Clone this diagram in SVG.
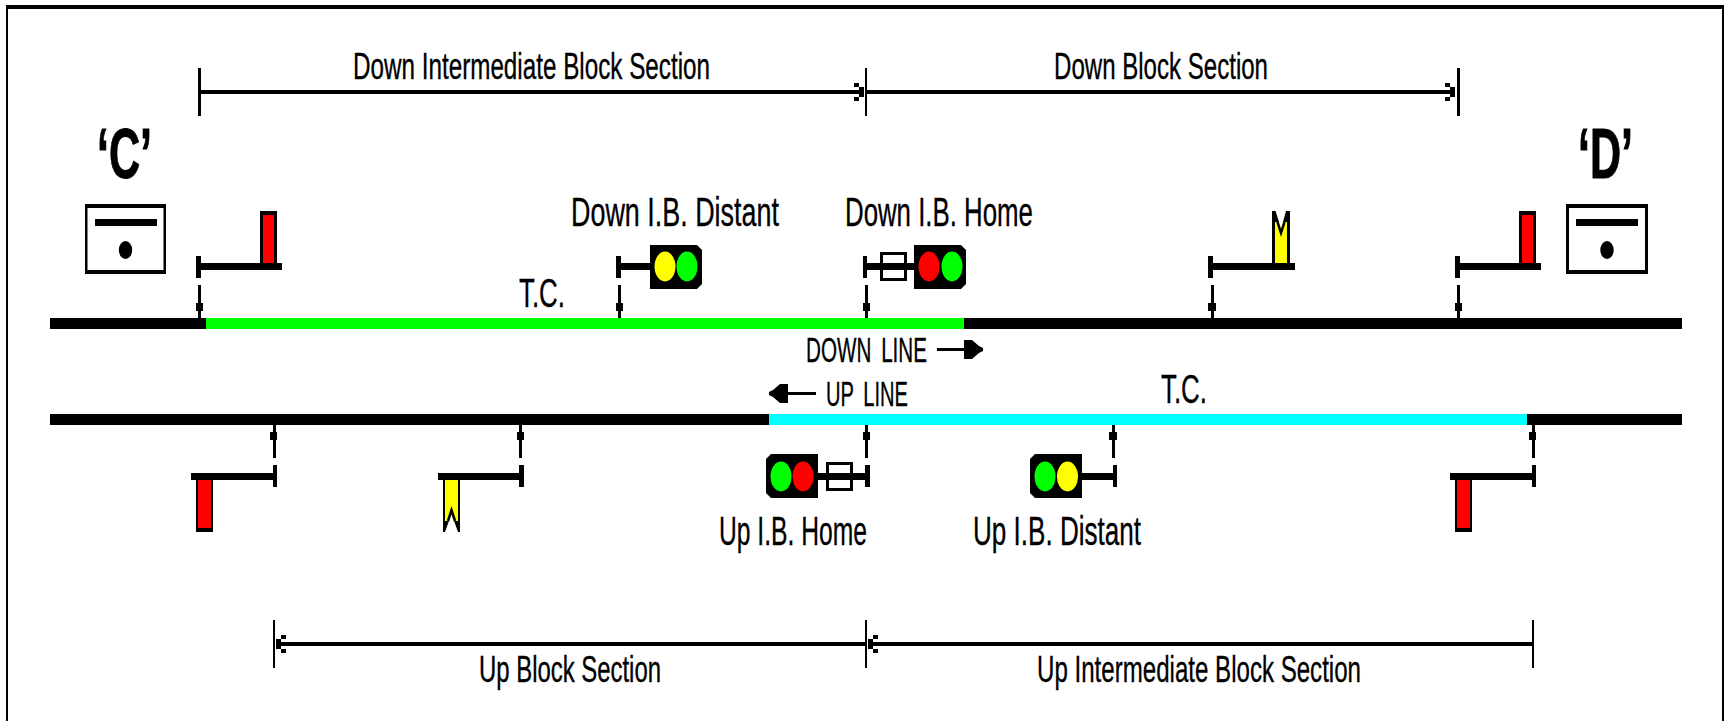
<svg xmlns="http://www.w3.org/2000/svg" width="1729" height="721" viewBox="0 0 1729 721">
<style>
text{font-family:"Liberation Sans",Arial,sans-serif;fill:#000;stroke:#000;stroke-width:.35;font-size:36px}
.l{font-size:40px}
.s{font-size:35px;word-spacing:7px}
.big{font-weight:bold;font-size:71px;stroke-width:1}
.dim{stroke:#000;fill:none;stroke-width:4}
.tick{stroke:#000;stroke-width:3;fill:none}
.thin{stroke:#000;stroke-width:2;fill:none}
.k{fill:#000}
</style>
<defs>
<marker id="barb" markerUnits="userSpaceOnUse" markerWidth="12" markerHeight="20" refX="10" refY="9" orient="auto-start-reverse" viewBox="0 0 12 20">
<path d="M0,0h5v4h5v10h-5v4h-5v-4h5v-10h-5z" fill="#000"/>
</marker>
</defs>
<rect width="1729" height="721" fill="#fff"/>
<path d="M7,721V7H1723V721" fill="none" stroke="#000" stroke-width="2"/>
<rect x="6" y="5" width="1718" height="4" class="k"/>

<g id="tracks" shape-rendering="crispEdges">
<rect x="50" y="318" width="1632" height="11" class="k"/>
<rect x="206" y="318" width="758" height="11" fill="#0f0"/>
<rect x="50" y="414" width="1632" height="11" class="k"/>
<rect x="769" y="414" width="758" height="11" fill="#0ff"/>
</g>

<g id="connectors">
<path class="dim" d="M201,92H864" marker-end="url(#barb)"/>
<path class="dim" d="M867,92H1455" marker-end="url(#barb)"/>
<path class="dim" d="M286,644H865"/>
<path class="dim" d="M276,644H287" marker-start="url(#barb)"/>
<path class="dim" d="M877,644H1533"/>
<path class="dim" d="M868,644H879" marker-start="url(#barb)"/>
<path class="tick" d="M199.500,68V116M1458.500,68V116"/>
<path class="thin" d="M866,68V116M274,620V668M866,620V668M1533,620V668"/>
<g shape-rendering="crispEdges">
<path class="tick" d="M199.500,285V318M619.500,285V318M866,285V318M1212,285V318M1458.500,285V318"/>
<path class="tick" d="M274,425V458M520.500,425V458M866,425V458M1113,425V458M1533,425V458"/>
<path class="k" d="M196,303h7v8h-7zM616,303h7v8h-7zM863,303h7v8h-7zM1208,303h8v8h-8zM1455,303h7v8h-7z"/>
<path class="k" d="M270,432h7v8h-7zM517,432h7v8h-7zM863,432h7v8h-7zM1109,432h8v8h-8zM1529,432h7v8h-7z"/>
</g>
<path class="k" d="M937,348h27v-8h8l7,6l4,2v3l-4,2l-7,6h-8v-8h-27z"/>
<path class="k" d="M816,392h-28v-8h-8l-7,6l-4,2v3l4,2l7,6h8v-8h28z"/>
</g>

<g id="box-c">
<rect x="85" y="204" width="81" height="70" class="k"/>
<rect x="87.500" y="208" width="76" height="62" fill="#fff"/>
<rect x="95" y="219" width="62" height="7" class="k"/>
<ellipse cx="125.500" cy="250" rx="6.700" ry="9" class="k"/>
<text class="big" x="97" y="178" textLength="55" lengthAdjust="spacingAndGlyphs">‘C’</text>
</g>
<g id="box-d">
<rect x="1566" y="204" width="82" height="70" class="k"/>
<rect x="1569" y="208" width="76" height="62" fill="#fff"/>
<rect x="1576" y="219" width="62" height="7" class="k"/>
<ellipse cx="1607" cy="250" rx="6.700" ry="9" class="k"/>
<text class="big" x="1578" y="178" textLength="55" lengthAdjust="spacingAndGlyphs">‘D’</text>
</g>

<g id="sig-c-down" shape-rendering="crispEdges">
<path class="k" d="M196,256h5v7h81v7h-81v8h-5z"/>
<rect x="260" y="211" width="17" height="52" class="k"/>
<rect x="263" y="215" width="11" height="48" fill="#f00"/>
</g>
<g id="sig-down-ib-distant">
<path class="k" d="M616,256h5v7h29v7h-29v8h-5z" shape-rendering="crispEdges"/>
<polygon class="k" points="650,245 697,245 702,250 702,284 697,289 650,289"/>
<ellipse cx="665" cy="266.500" rx="10.500" ry="15" fill="#ff0"/>
<ellipse cx="687" cy="266.500" rx="10.500" ry="15" fill="#0f0"/>
<text class="l" transform="translate(571 226) scale(.7 1)" textLength="297" lengthAdjust="spacingAndGlyphs">Down I.B. Distant</text>
</g>
<g id="sig-down-ib-home">
<path class="k" d="M863,256h4v7h47v7h-47v8h-4z" shape-rendering="crispEdges"/>
<rect x="881.500" y="253.500" width="24" height="26" fill="none" stroke="#000" stroke-width="3"/>
<polygon class="k" points="914,245 961,245 966,250 966,284 961,289 914,289"/>
<ellipse cx="929" cy="266.500" rx="10.500" ry="15" fill="#f00"/>
<ellipse cx="952" cy="266.500" rx="10.500" ry="15" fill="#0f0"/>
<text class="l" transform="translate(845 226) scale(.65 1)" textLength="289" lengthAdjust="spacingAndGlyphs">Down I.B. Home</text>
</g>
<g id="sig-down-distant">
<path class="k" d="M1208,256h5v7h82v7h-82v8h-5z" shape-rendering="crispEdges"/>
<rect x="1272" y="211" width="18" height="52" class="k"/>
<rect x="1275" y="222" width="12" height="41" fill="#ff0"/>
<polygon points="1275.500,211 1286,211 1283,222 1281,229 1279,222" fill="#fff"/>
<path d="M1277.500,222L1281,233L1284.500,222" fill="none" stroke="#000" stroke-width="2.500"/>
</g>
<g id="sig-d-down" shape-rendering="crispEdges">
<path class="k" d="M1455,256h5v7h81v7h-81v8h-5z"/>
<rect x="1519" y="211" width="17" height="52" class="k"/>
<rect x="1522" y="215" width="11" height="48" fill="#f00"/>
</g>

<g id="sig-up-left" shape-rendering="crispEdges">
<path class="k" d="M273,465h4v22h-4v-7h-82v-7h82z"/>
<rect x="196" y="480" width="17" height="52" class="k"/>
<rect x="198" y="480" width="13" height="48" fill="#f00"/>
</g>
<g id="sig-up-distant">
<path class="k" d="M519,465h5v22h-5v-7h-81v-7h81z" shape-rendering="crispEdges"/>
<rect x="443" y="480" width="17" height="52" class="k"/>
<rect x="445" y="480" width="13" height="41" fill="#ff0"/>
<polygon points="445,532 458,532 453,518 451.500,514 450,518" fill="#fff"/>
<path d="M448,521L451.500,510L455,521" fill="none" stroke="#000" stroke-width="2.500"/>
</g>
<g id="sig-up-ib-home">
<path class="k" d="M865,465h5v22h-5v-7h-47v-7h47z" shape-rendering="crispEdges"/>
<rect x="827.500" y="463.500" width="24" height="26" fill="none" stroke="#000" stroke-width="3"/>
<polygon class="k" points="771,454 818,454 818,498 771,498 766,493 766,459"/>
<ellipse cx="781" cy="476.500" rx="10.500" ry="15" fill="#0f0"/>
<ellipse cx="803" cy="476.500" rx="10.500" ry="15" fill="#f00"/>
<text class="l" x="719" y="545" textLength="148" lengthAdjust="spacingAndGlyphs">Up I.B. Home</text>
</g>
<g id="sig-up-ib-distant">
<path class="k" d="M1112.500,465h4.500v22h-4.500v-7h-31v-7h31z" shape-rendering="crispEdges"/>
<polygon class="k" points="1035,454 1082,454 1082,498 1035,498 1030,493 1030,459"/>
<ellipse cx="1045" cy="476.500" rx="10.500" ry="15" fill="#0f0"/>
<ellipse cx="1067.500" cy="476.500" rx="10.500" ry="15" fill="#ff0"/>
<text class="l" x="973" y="545" textLength="168" lengthAdjust="spacingAndGlyphs">Up I.B. Distant</text>
</g>
<g id="sig-up-right" shape-rendering="crispEdges">
<path class="k" d="M1532,465h4v22h-4v-7h-82v-7h82z"/>
<rect x="1455" y="480" width="17" height="52" class="k"/>
<rect x="1457" y="480" width="13" height="48" fill="#f00"/>
</g>

<g id="labels">
<text x="353" y="79" textLength="357" lengthAdjust="spacingAndGlyphs">Down Intermediate Block Section</text>
<text x="1054" y="79" textLength="214" lengthAdjust="spacingAndGlyphs">Down Block Section</text>
<text class="l" x="519" y="307" textLength="46" lengthAdjust="spacingAndGlyphs">T.C.</text>
<text class="l" x="1161" y="403" textLength="46" lengthAdjust="spacingAndGlyphs">T.C.</text>
<text class="s" x="806" y="362" textLength="121" lengthAdjust="spacingAndGlyphs">DOWN LINE</text>
<text class="s" x="826" y="406" textLength="82" lengthAdjust="spacingAndGlyphs">UP LINE</text>
<text x="479" y="682" textLength="182" lengthAdjust="spacingAndGlyphs">Up Block Section</text>
<text x="1037" y="682" textLength="324" lengthAdjust="spacingAndGlyphs">Up Intermediate Block Section</text>
</g>
</svg>
